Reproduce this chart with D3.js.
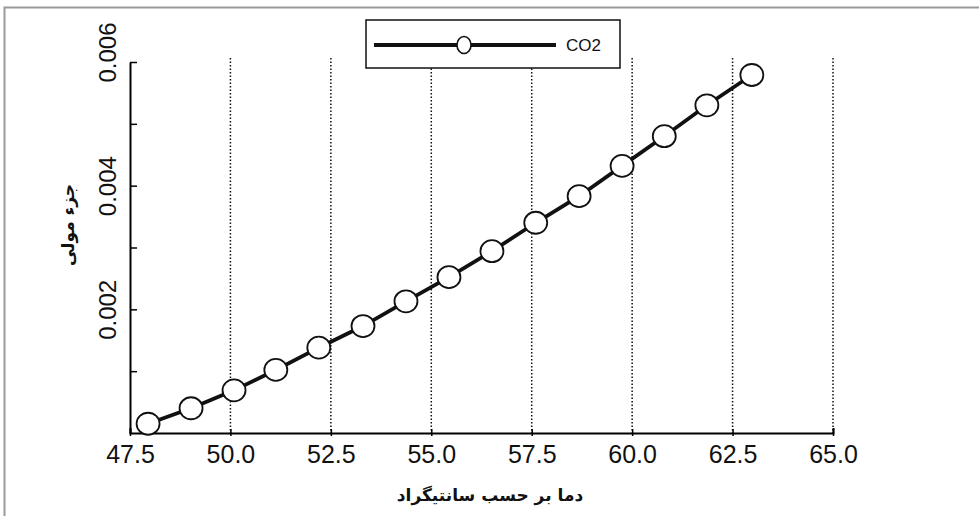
<!DOCTYPE html>
<html>
<head>
<meta charset="utf-8">
<script src="https://cdn.jsdelivr.net/npm/d3@7"></script>
<style>
  body { margin: 0; background: #fff; }
  svg { display: block; }
  .tick text { font-family: "Liberation Sans", Arial, sans-serif; }
</style>
</head>
<body>
<script>
// temperature (deg C) and CO2 mole fraction
var temps = [47.95, 49.02, 50.09, 51.13, 52.2, 53.3, 54.37, 55.44, 56.51, 57.6, 58.68, 59.75, 60.8, 61.86, 62.98];
var co2 = [0.00015, 0.0004, 0.00069, 0.00102, 0.00138, 0.00173, 0.00213, 0.00252, 0.00294, 0.0034, 0.00383, 0.00432, 0.0048, 0.0053, 0.00579];
var xTicks = [47.5, 50.0, 52.5, 55.0, 57.5, 60.0, 62.5, 65.0];
var yTicks = [0.001, 0.002, 0.003, 0.004, 0.005, 0.006];
var yLabelled = [0.002, 0.004, 0.006];
var seriesName = "CO2";
var xTitle = "دما بر حسب سانتیگراد";
var yTitle = "جزء مولی";

(function() {
    var W = 979, H = 516;
    var margin = { top: 62, left: 130, right: 146, bottom: 83 },
    width = W - margin.left - margin.right,
    height = H - margin.top - margin.bottom;

    var svg = d3.select('body')
    .append('svg')
    .attr("width", W)
    .attr("height", H);

    // outer frame of the figure (only top + left visible)
    svg.append("path")
        .attr("d", "M4.5," + H + " V7.5 H" + W)
        .attr("fill", "none")
        .attr("stroke", "#9a9a9a")
        .attr("stroke-width", 2);

    var g = svg.append('g')
    .attr('transform', 'translate('+ margin.left + ',' + margin.top +')');

    var x = d3.scaleLinear().domain([47.5, 65]).range([0, width]);
    var y = d3.scaleLinear().domain([0, 0.006]).range([height, 0]);

    // dotted vertical grid
    g.selectAll(".grid")
        .data(xTicks.slice(1))
        .enter().append("line")
        .attr("class", "grid")
        .attr("x1", function(d) { return x(d); })
        .attr("x2", function(d) { return x(d); })
        .attr("y1", -4)
        .attr("y2", height)
        .attr("stroke", "#111")
        .attr("stroke-width", 1.5)
        .attr("stroke-dasharray", "1.5,2");

    var xAxis = g.append("g")
        .attr("transform", "translate(0," + height + ")")
        .call(d3.axisBottom(x).tickValues(xTicks).tickFormat(d3.format(".1f")).tickSize(-5).tickPadding(12));
    xAxis.select(".domain").attr("stroke-width", 2);
    xAxis.selectAll(".tick line").attr("stroke-width", 1.5).attr("y2", 3).attr("y1", -4);
    xAxis.selectAll(".tick text").attr("font-size", 25).attr("fill", "#111").attr("dy", "0.71em");

    var yAxis = g.append("g")
        .call(d3.axisLeft(y).tickValues(yTicks).tickSize(-7).tickSizeOuter(0)
            .tickFormat(function(d) { return yLabelled.indexOf(d) >= 0 ? d3.format(".3f")(d) : ""; }));
    yAxis.select(".domain").attr("stroke-width", 2);
    yAxis.selectAll(".tick line").attr("stroke-width", 1.5);
    yAxis.selectAll(".tick text")
        .attr("font-size", 24)
        .attr("fill", "#111")
        .attr("text-anchor", "middle")
        .attr("x", 0)
        .attr("dy", 0)
        .attr("transform", function(d) {
            var off = d === 0.006 ? -10 : 0;
            return "translate(-14," + off + ") rotate(-90)";
        });

    // series line + markers
    var pts = temps.map(function(t, i) { return [t, co2[i]]; });
    g.append("path")
        .datum(pts)
        .attr("fill", "none")
        .attr("stroke", "#111")
        .attr("stroke-width", 3.8)
        .attr("d", d3.line().x(function(d) { return x(d[0]); }).y(function(d) { return y(d[1]); }));

    g.selectAll(".pt")
        .data(pts)
        .enter().append("ellipse")
        .attr("class", "pt")
        .attr("cx", function(d) { return x(d[0]); })
        .attr("cy", function(d) { return y(d[1]); })
        .attr("rx", 11.5)
        .attr("ry", 11)
        .attr("fill", "#fff")
        .attr("stroke", "#111")
        .attr("stroke-width", 1.8);

    // legend
    var lg = svg.append("g").attr("transform", "translate(366,20)");
    lg.append("rect")
        .attr("width", 254).attr("height", 48)
        .attr("fill", "#fff").attr("stroke", "#111").attr("stroke-width", 1.5);
    lg.append("line")
        .attr("x1", 8).attr("x2", 190).attr("y1", 25).attr("y2", 25)
        .attr("stroke", "#111").attr("stroke-width", 3.8);
    lg.append("ellipse")
        .attr("cx", 98).attr("cy", 25).attr("rx", 7).attr("ry", 8.5)
        .attr("fill", "#fff").attr("stroke", "#111").attr("stroke-width", 1.6);
    lg.append("text")
        .attr("x", 200).attr("y", 31)
        .attr("font-family", "Liberation Sans, Arial, sans-serif")
        .attr("font-size", 17)
        .attr("fill", "#111")
        .text(seriesName);

    // axis titles
    svg.append("text")
        .attr("x", 490)
        .attr("y", 501)
        .attr("text-anchor", "middle")
        .attr("direction", "rtl")
        .attr("font-family", "DejaVu Sans, sans-serif")
        .attr("font-weight", "bold")
        .attr("font-size", 17)
        .attr("fill", "#111")
        .text(xTitle);

    svg.append("text")
        .attr("transform", "translate(74,225) rotate(-90)")
        .attr("text-anchor", "middle")
        .attr("direction", "rtl")
        .attr("font-family", "DejaVu Sans, sans-serif")
        .attr("font-weight", "bold")
        .attr("font-size", 17)
        .attr("fill", "#111")
        .text(yTitle);
})();
</script>
</body>
</html>
